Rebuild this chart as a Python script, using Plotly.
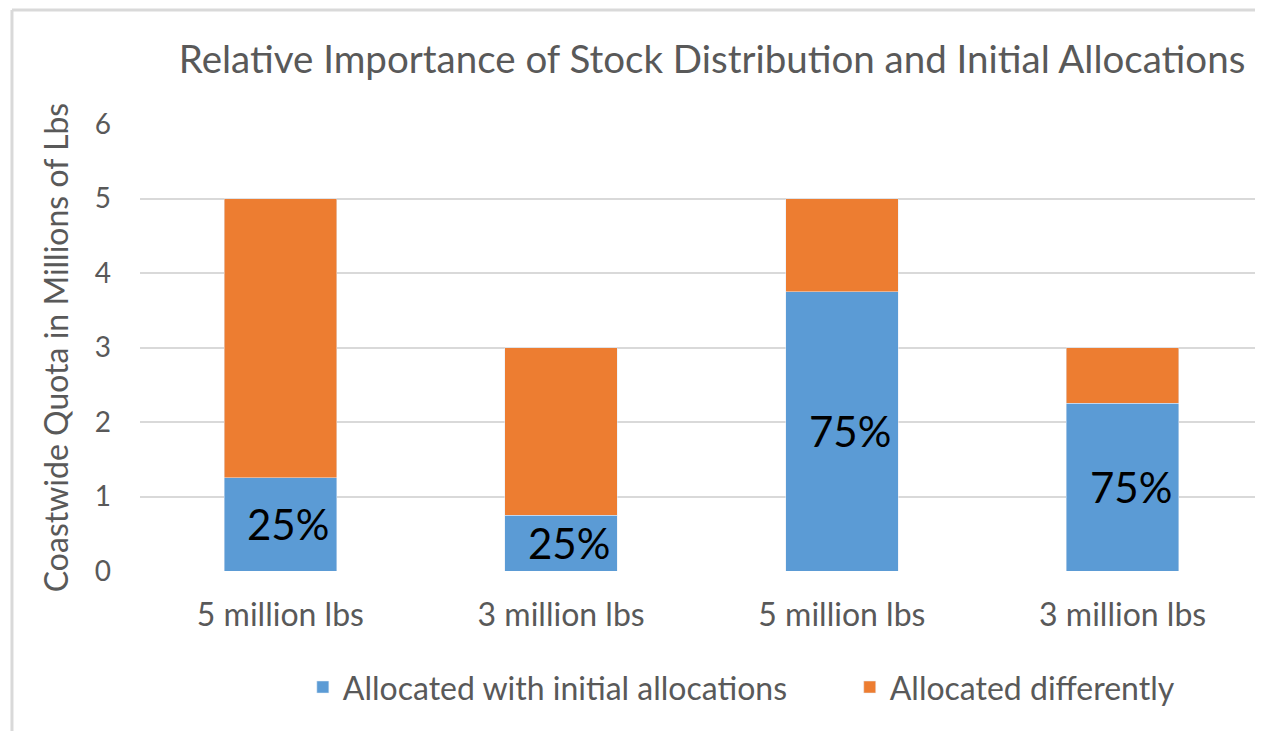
import plotly.graph_objects as go

categories = ["5 million lbs", "3 million lbs", "5 million lbs", "3 million lbs"]
initial_alloc = [1.25, 0.75, 3.75, 2.25]
different_alloc = [3.75, 2.25, 1.25, 0.75]
pct_labels = ["25%", "25%", "75%", "75%"]

FONT = "Lato"
GREY = "#595959"
x_pos = list(range(len(categories)))

fig = go.Figure()

fig.add_bar(
  x=x_pos,
  y=initial_alloc,
  name="Allocated with initial allocations",
  marker=dict(color="#5b9bd5"),
  width=0.4,
  legend="legend",
)

fig.add_bar(
  x=x_pos,
  y=different_alloc,
  name="Allocated differently",
  marker=dict(color="#ed7d31"),
  width=0.4,
  legend="legend2",
)

# percentage labels sit in the middle of the blue segment
for i, lab in enumerate(pct_labels):
  fig.add_annotation(
    x=x_pos[i], y=initial_alloc[i] / 2,
    text=lab, showarrow=False, xshift=8,
    font=dict(family=FONT, size=42, color="black"),
  )

# thin frame along top and left, like the cropped chart border
fig.add_shape(type="line", xref="paper", yref="paper",
              x0=-0.114, x1=1.1, y0=1.255, y1=1.255,
              line=dict(color="#d9d9d9", width=3))
fig.add_shape(type="line", xref="paper", yref="paper",
              x0=-0.114, x1=-0.114, y0=-0.4, y1=1.255,
              line=dict(color="#d9d9d9", width=3))

legend_style = dict(
  orientation="h",
  y=-0.26, yanchor="middle",
  xanchor="left",
  font=dict(size=32, color=GREY),
  itemwidth=30,
  bgcolor="rgba(0,0,0,0)",
)

fig.update_layout(
  barmode="stack",
  width=1255,
  height=723,
  margin=dict(l=132, r=0, t=116, b=160),
  plot_bgcolor="white",
  paper_bgcolor="white",
  font=dict(family=FONT, color=GREY),
  title=dict(
    text="Relative Importance of Stock Distribution and Initial Allocations",
    x=0.561, xref="container", xanchor="center",
    y=1 - 52 / 723, yanchor="middle",
    font=dict(family=FONT, size=38.5, color=GREY),
  ),
  xaxis=dict(
    tickvals=x_pos,
    ticktext=categories,
    range=[-0.5, 3.5],
    showgrid=False,
    zeroline=False,
    showline=False,
    tickfont=dict(size=32, color=GREY),
    ticklabelstandoff=22,
  ),
  yaxis=dict(
    range=[0, 6],
    dtick=1,
    gridcolor="#d9d9d9",
    gridwidth=2,
    zeroline=False,
    tickfont=dict(size=28, color=GREY),
    ticklabelstandoff=28,
    title=dict(text="Coastwide Quota in Millions of Lbs",
               font=dict(size=32, color=GREY), standoff=16),
  ),
  legend=dict(legend_style, x=0.145),
  legend2=dict(legend_style, x=0.632),
  showlegend=True,
)

fig.write_html("out.html")
